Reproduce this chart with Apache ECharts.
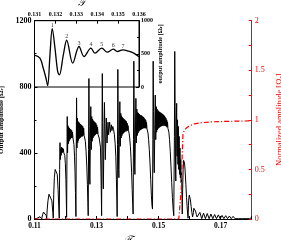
<!DOCTYPE html>
<html><head><meta charset="utf-8">
<script src="https://cdn.jsdelivr.net/npm/echarts@6/dist/echarts.min.js"></script>
<style>html,body{margin:0;padding:0;background:#fff}#c{width:281px;height:240px}</style>
</head><body><div id="c"></div>
<script>
// ---- tick labels ----
const xTickLabels = ['0.11', '0.13', '0.15', '0.17'];
const insetTickLabels = ['0.131', '0.132', '0.133', '0.134', '0.135', '0.136'];
const peakNames = ['1', '2', '3', '4', '5', '6', '7'];

// ---- main output amplitude curve, segments [T, amplitude] ----
const onset = [[0.11000,0],[0.11071,3],[0.11129,12],[0.11177,14],[0.11210,8],[0.11232,1],[0.11260,25],[0.11290,42],[0.11322,50],[0.11354,42],[0.11380,20],[0.11393,2],[0.11410,60],[0.11434,110],[0.11467,150],[0.11499,160],[0.11531,150],[0.11560,110],[0.11590,40],[0.11605,5],[0.11620,150],[0.11640,250],[0.11666,300],[0.11698,307],[0.11734,270],[0.11760,180],[0.11785,60],[0.11798,5]];
const lobeA = [[0.11810,300],[0.11822,462],[0.11834,360],[0.11846,425],[0.11860,385],[0.11874,435],[0.11888,400],[0.11902,430],[0.11916,405],[0.11930,425],[0.11944,400],[0.11958,410],[0.11975,385],[0.11995,335],[0.12012,240],[0.12025,120],[0.12035,10]];
const lobeB = [[0.12045,350],[0.12055,620],[0.12066,400],[0.12078,565],[0.12090,455],[0.12102,555],[0.12114,470],[0.12126,550],[0.12138,480],[0.12150,545],[0.12162,485],[0.12175,540],[0.12188,490],[0.12200,535],[0.12213,490],[0.12226,525],[0.12240,490],[0.12255,495],[0.12272,450],[0.12290,380],[0.12305,290],[0.12320,160],[0.12335,15]];
const lobeC = [[0.12345,400],[0.12356,733],[0.12368,430],[0.12380,610],[0.12392,460],[0.12404,590],[0.12416,475],[0.12428,585],[0.12440,485],[0.12452,580],[0.12465,490],[0.12478,575],[0.12491,495],[0.12504,570],[0.12517,500],[0.12530,565],[0.12543,500],[0.12556,560],[0.12570,505],[0.12585,550],[0.12600,505],[0.12618,515],[0.12640,470],[0.12662,410],[0.12685,320],[0.12705,210],[0.12720,100],[0.12731,20]];
const lobeD = [[0.12742,420],[0.12753,850],[0.12765,560],[0.12777,260],[0.12786,210],[0.12800,470],[0.12814,680],[0.12830,420],[0.12845,620],[0.12858,470],[0.12872,605],[0.12885,490],[0.12898,595],[0.12911,500],[0.12924,590],[0.12937,505],[0.12950,585],[0.12963,510],[0.12976,580],[0.12990,515],[0.13004,570],[0.13018,515],[0.13032,555],[0.13050,510],[0.13070,505],[0.13085,490]];
// zoomed region (inset), also part of main curve
const insetCurve = [[0.13100,480],[0.13126,435],[0.13142,283],[0.13155,132],[0.13163,20],[0.13174,485],[0.13185,880],[0.13198,586],[0.13211,232],[0.13219,182],[0.13238,485],[0.13254,705],[0.13283,359],[0.13313,611],[0.13337,460],[0.13370,586],[0.13389,510],[0.13422,586],[0.13448,525],[0.13477,570],[0.13496,535],[0.13523,560],[0.13550,540],[0.13575,510],[0.13600,455]];
const peakIdx = [6, 11, 13, 15, 17, 19, 21];
const lobeEEnd = [[0.13620,380],[0.13640,240],[0.13655,110],[0.13664,15]];
const lobeF = [[0.13675,450],[0.13686,905],[0.13698,600],[0.13710,300],[0.13720,250],[0.13735,500],[0.13750,710],[0.13765,440],[0.13780,640],[0.13793,490],[0.13806,625],[0.13819,505],[0.13832,615],[0.13845,515],[0.13858,610],[0.13871,520],[0.13884,605],[0.13897,525],[0.13910,600],[0.13923,530],[0.13936,595],[0.13949,530],[0.13962,590],[0.13975,535],[0.13988,580],[0.14001,535],[0.14015,565],[0.14030,535],[0.14048,520],[0.14068,490],[0.14090,440],[0.14110,370],[0.14130,280],[0.14148,180],[0.14165,90],[0.14179,30]];
const lobeG = [[0.14190,480],[0.14201,955],[0.14213,640],[0.14226,320],[0.14236,270],[0.14252,520],[0.14268,730],[0.14284,460],[0.14299,665],[0.14312,505],[0.14325,645],[0.14338,520],[0.14351,640],[0.14364,530],[0.14377,635],[0.14390,535],[0.14403,630],[0.14416,540],[0.14429,628],[0.14442,542],[0.14455,625],[0.14468,545],[0.14481,620],[0.14494,548],[0.14507,618],[0.14520,550],[0.14533,612],[0.14546,550],[0.14559,605],[0.14572,550],[0.14585,598],[0.14598,548],[0.14611,585],[0.14625,545],[0.14640,550],[0.14658,520],[0.14678,480],[0.14700,420],[0.14722,340],[0.14745,240],[0.14768,140],[0.14787,80],[0.14803,60]];
const lobeH = [[0.14814,480],[0.14825,955],[0.14837,650],[0.14850,330],[0.14860,280],[0.14876,540],[0.14892,750],[0.14908,480],[0.14923,680],[0.14936,525],[0.14949,665],[0.14962,540],[0.14975,658],[0.14988,548],[0.15001,652],[0.15014,552],[0.15027,648],[0.15040,556],[0.15053,645],[0.15066,560],[0.15079,642],[0.15092,562],[0.15105,638],[0.15118,564],[0.15131,635],[0.15144,565],[0.15157,630],[0.15170,566],[0.15183,625],[0.15196,565],[0.15209,618],[0.15222,563],[0.15235,610],[0.15248,560],[0.15261,600],[0.15274,555],[0.15287,588],[0.15300,548],[0.15315,555],[0.15332,525],[0.15352,480],[0.15375,410],[0.15398,320],[0.15422,220],[0.15445,130],[0.15468,60],[0.15488,20],[0.15498,15]];
const lobeI = [[0.15509,500],[0.15520,1014],[0.15532,680],[0.15544,320],[0.15554,230],[0.15568,560],[0.15582,700],[0.15596,380],[0.15610,600],[0.15623,330],[0.15636,560],[0.15649,300],[0.15662,500],[0.15675,270],[0.15688,430],[0.15701,250],[0.15714,360],[0.15727,220],[0.15740,280],[0.15752,150],[0.15762,30]];
const tail = [[0.15775,180],[0.15790,300],[0.15805,355],[0.15818,362],[0.15835,340],[0.15855,290],[0.15878,210],[0.15900,130],[0.15925,55],[0.15949,5],[0.15962,80],[0.15975,130],[0.15990,145],[0.16005,140],[0.16025,115],[0.16048,75],[0.16072,40],[0.16095,12],[0.16110,3],[0.16122,40],[0.16135,65],[0.16150,71],[0.16168,65],[0.16190,48],[0.16215,28],[0.16240,12],[0.16262,3]];
const ripples = [[0.16330,40],[0.16389,2],[0.16449,36],[0.16508,2],[0.16568,33],[0.16627,2],[0.16687,30],[0.16746,2],[0.16806,27],[0.16865,2],[0.16925,25],[0.16984,2],[0.17044,22],[0.17103,2],[0.17163,20],[0.17222,2],[0.17282,18],[0.17341,2],[0.17401,16],[0.17460,2],[0.17520,14],[0.17579,2],[0.17639,13],[0.17698,2],[0.17758,11],[0.17817,2],[0.17877,10],[0.17936,2],[0.17990,8]];

// ---- normalized amplitude (right axis) ----
const normCurve = [[0.11000,0],[0.15450,0],[0.15650,0],[0.15690,0.02],[0.15730,0.3],[0.15760,0.65],[0.15785,0.85],[0.15820,0.89],[0.15900,0.92],[0.16000,0.94],[0.16150,0.96],[0.16350,0.97],[0.16700,0.98],[0.17200,0.985],[0.18000,0.99]];

const mainCurve = [].concat(onset, lobeA, lobeB, lobeC, lobeD, insetCurve, lobeEEnd, lobeF, lobeG, lobeH, lobeI, tail, ripples);
const peakData = peakIdx.map((i, k) => ({ name: peakNames[k], value: insetCurve[i] }));

const SERIF = '"Liberation Serif", "DejaVu Serif", serif';
const plain = v => String(v);
const subRich = (size, bold, color) => ({
  a: { fontFamily: SERIF, fontSize: size, fontWeight: bold ? 'bold' : 'normal', color: color, verticalAlign: 'middle' },
  s: { fontFamily: SERIF, fontSize: size * 0.7, fontWeight: bold ? 'bold' : 'normal', color: color, verticalAlign: 'bottom' }
});
const chart = echarts.init(document.getElementById('c'), null, { renderer: 'canvas' });
chart.setOption({
  animation: false,
  backgroundColor: '#fff',
  grid: [
    { left: 34.5, top: 20.7, width: 217.2, height: 198.3, show: false, containLabel: false, outerBoundsMode: 'none' },
    { left: 34.5, top: 20.7, width: 104.5, height: 66.3, show: true, borderColor: '#000', borderWidth: 1, backgroundColor: 'transparent', containLabel: false, outerBoundsMode: 'none' }
  ],
  xAxis: [
    { gridIndex: 0, type: 'value', min: 0.11, max: 0.18, interval: 0.01, position: 'bottom',
      axisLine: { show: true, onZero: false, lineStyle: { color: '#000', width: 1 } },
      axisTick: { show: true, inside: true, length: 3, lineStyle: { color: '#000' } },
      splitLine: { show: false },
      axisLabel: { margin: 3, color: '#000', fontFamily: SERIF, fontWeight: 'bold', fontSize: 7.5,
        formatter: v => { const s = v.toFixed(2); return xTickLabels.includes(s) ? s : ''; } },
      name: '𝒯', nameLocation: 'middle', nameGap: 10,
      nameTextStyle: { fontFamily: SERIF, fontStyle: 'italic', fontSize: 12, color: '#000', padding: [0, 32, 0, 0] } },
    { gridIndex: 1, type: 'value', min: 0.131, max: 0.136, interval: 0.001, position: 'top',
      axisLine: { show: true, onZero: false, lineStyle: { color: '#000', width: 1 } },
      axisTick: { show: true, inside: true, length: 3, lineStyle: { color: '#000' } },
      splitLine: { show: false },
      axisLabel: { margin: 3, color: '#000', fontFamily: SERIF, fontWeight: 'bold', fontSize: 6,
        formatter: v => { const s = v.toFixed(3); return insetTickLabels.includes(s) ? s : ''; } },
      name: '𝒯', nameLocation: 'middle', nameGap: 12,
      nameTextStyle: { fontFamily: SERIF, fontStyle: 'italic', fontSize: 10, color: '#000', padding: [0, 10, 0, 0] } }
  ],
  yAxis: [
    { gridIndex: 0, type: 'value', min: 0, max: 1200, interval: 400, position: 'left',
      axisLine: { show: true, onZero: false, lineStyle: { color: '#000', width: 1 } },
      axisTick: { show: true, inside: true, length: 3, lineStyle: { color: '#000' } },
      minorTick: { show: true, splitNumber: 2, length: 2, lineStyle: { color: '#000' } },
      splitLine: { show: false },
      axisLabel: { margin: 3, color: '#000', fontFamily: SERIF, fontWeight: 'bold', fontSize: 8, formatter: plain },
      name: '{a|Output amplitude [Ω}{s|r}{a|]}', nameLocation: 'middle', nameGap: 27, nameRotate: 90,
      nameTextStyle: { fontFamily: SERIF, fontWeight: 'bold', fontSize: 7, color: '#000', rich: subRich(7, true, '#000') } },
    { gridIndex: 0, type: 'value', min: 0, max: 2, interval: 0.5, position: 'right',
      axisLine: { show: true, onZero: false, lineStyle: { color: '#ff0000', width: 1 } },
      axisTick: { show: true, inside: true, length: 3, lineStyle: { color: '#ff0000' } },
      minorTick: { show: true, splitNumber: 2, length: 3, lineStyle: { color: '#ff0000' } },
      splitLine: { show: false },
      axisLabel: { margin: 3, color: '#ff0000', fontFamily: SERIF, fontSize: 8, formatter: plain },
      name: '{a|Normalized amplitude [Ω}{s|r}{a|]}', nameLocation: 'middle', nameGap: 13, nameRotate: 90,
      nameTextStyle: { fontFamily: SERIF, fontSize: 8.5, color: '#ff0000', rich: subRich(8.5, false, '#ff0000') } },
    { gridIndex: 1, type: 'value', min: 0, max: 1000, interval: 500, position: 'right',
      axisLine: { show: true, onZero: false, lineStyle: { color: '#000', width: 1 } },
      axisTick: { show: true, inside: true, length: 3, lineStyle: { color: '#000' } },
      minorTick: { show: true, splitNumber: 2, length: 2, lineStyle: { color: '#000' } },
      splitLine: { show: false },
      axisLabel: { margin: 2, color: '#000', fontFamily: SERIF, fontWeight: 'bold', fontSize: 6, formatter: plain },
      name: '{a|output amplitude [Ω}{s|r}{a|]}', nameLocation: 'middle', nameGap: 15, nameRotate: 90,
      nameTextStyle: { fontFamily: SERIF, fontWeight: 'bold', fontSize: 6.3, color: '#000', rich: subRich(6.3, true, '#000') } }
  ],
  series: [
    { type: 'line', xAxisIndex: 0, yAxisIndex: 0, data: mainCurve, showSymbol: false, clip: false,
      lineStyle: { color: '#000', width: 1 }, z: 3 },
    { type: 'line', xAxisIndex: 0, yAxisIndex: 1, data: normCurve, showSymbol: false,
      lineStyle: { color: '#ff0000', width: 1.2, type: [5, 2, 1.2, 2] }, z: 4 },
    { type: 'line', xAxisIndex: 1, yAxisIndex: 2, data: insetCurve, showSymbol: false, smooth: 0.35,
      lineStyle: { color: '#000', width: 1.3 }, z: 5 },
    { type: 'scatter', xAxisIndex: 1, yAxisIndex: 2, data: peakData, symbolSize: 1,
      itemStyle: { color: 'rgba(0,0,0,0)' },
      label: { show: true, position: 'top', distance: 0, formatter: p => p.name,
        fontFamily: SERIF, fontSize: 6, color: '#000' }, z: 6 }
  ]
});
</script></body></html>
